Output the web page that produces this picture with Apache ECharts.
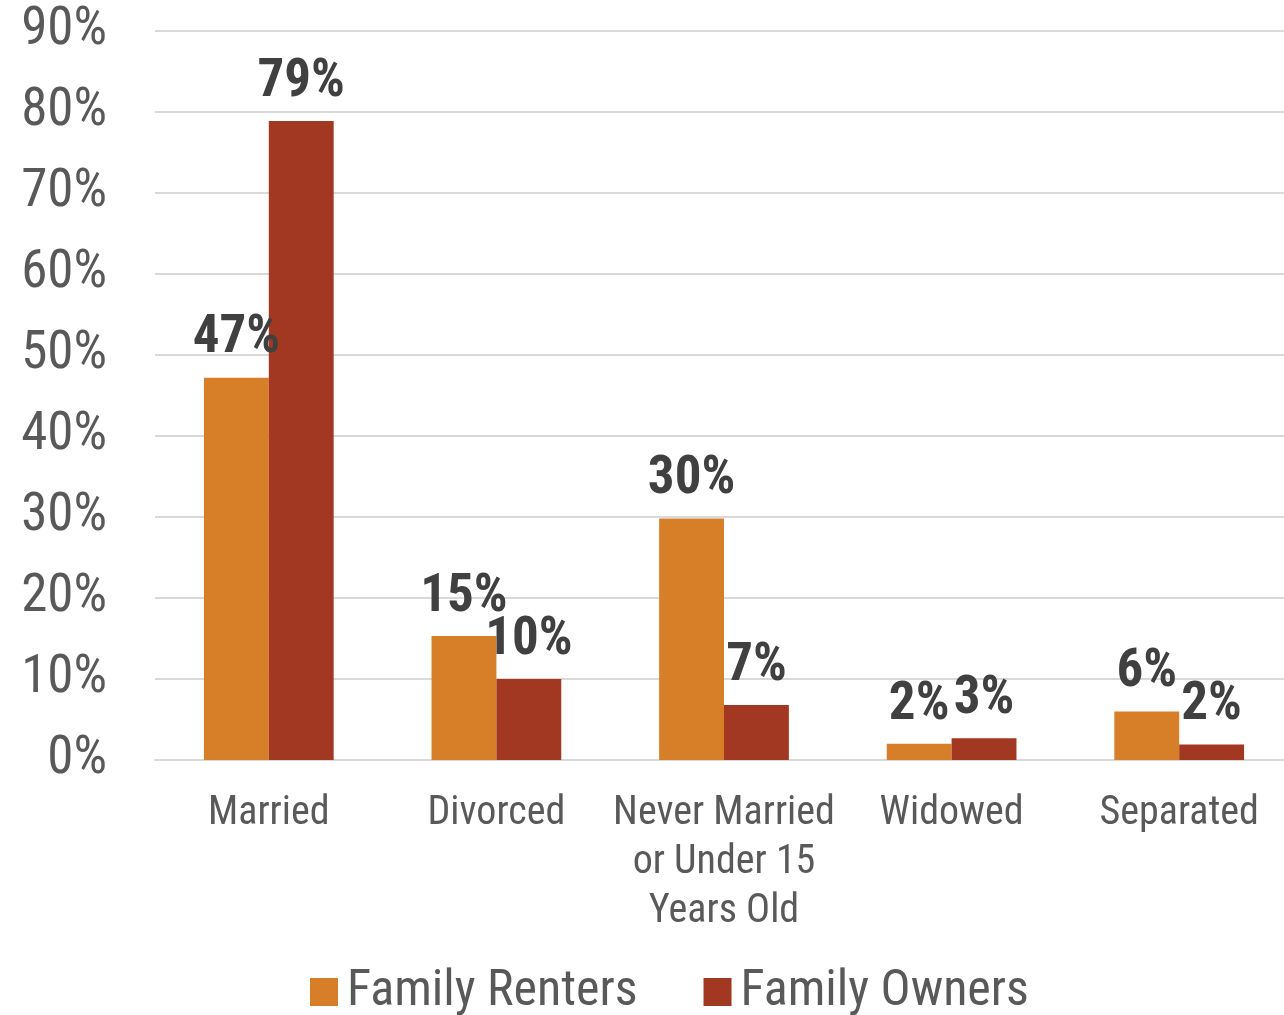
<!DOCTYPE html>
<html><head><meta charset="utf-8">
<script src="https://cdn.jsdelivr.net/npm/echarts@6/dist/echarts.min.js"></script>
<style>html,body{margin:0;padding:0;background:#fff;overflow:hidden}#c{width:1293px;height:1015px}</style>
</head><body><div id="c"></div>
<script>
var categories = ['Married', 'Divorced', 'Never Married\nor Under 15\nYears Old', 'Widowed', 'Separated'];
var renters = [47.2, 15.3, 29.8, 2.0, 6.0];
var owners = [78.9, 10.0, 6.8, 2.7, 1.9];
var seriesNames = ['Family Renters', 'Family Owners'];
var FONT = '"Liberation Sans Narrow", "Arial Narrow", "Roboto Condensed", "Liberation Sans", sans-serif';
var chart = echarts.init(document.getElementById('c'));
var lbl = {
  show: true, position: 'top', distance: 12,
  formatter: function (p) { return Math.round(p.value) + '%'; },
  fontFamily: FONT, fontWeight: 'bold', fontSize: 53, color: '#404040'
};
chart.setOption({
  animation: false,
  grid: { left: 155, right: 0, top: 31, bottom: 255 },
  legend: {
    top: 962, left: 305, itemWidth: 28, itemHeight: 28, itemGap: 66,
    icon: 'rect',
    textStyle: { fontFamily: FONT, fontSize: 50, color: '#595959', padding: [0, 0, 0, 4] },
    data: seriesNames
  },
  xAxis: {
    type: 'category', data: categories,
    axisLine: { lineStyle: { color: '#d9d9d9', width: 2 } },
    axisTick: { show: false },
    axisLabel: { fontFamily: FONT, fontSize: 40, color: '#595959', margin: 29, lineHeight: 49, interval: 0 }
  },
  yAxis: {
    type: 'value', min: 0, max: 90, interval: 10,
    axisLine: { show: false }, axisTick: { show: false },
    splitLine: { lineStyle: { color: '#d9d9d9', width: 2 } },
    axisLabel: { fontFamily: FONT, fontSize: 53, color: '#595959', margin: 48, formatter: '{value}%' }
  },
  series: [
    { name: seriesNames[0], type: 'bar', data: renters, barGap: '0%', barCategoryGap: '43%',
      itemStyle: { color: '#D77F28' }, label: lbl },
    { name: seriesNames[1], type: 'bar', data: owners,
      itemStyle: { color: '#A33822' }, label: lbl }
  ]
});
</script></body></html>
